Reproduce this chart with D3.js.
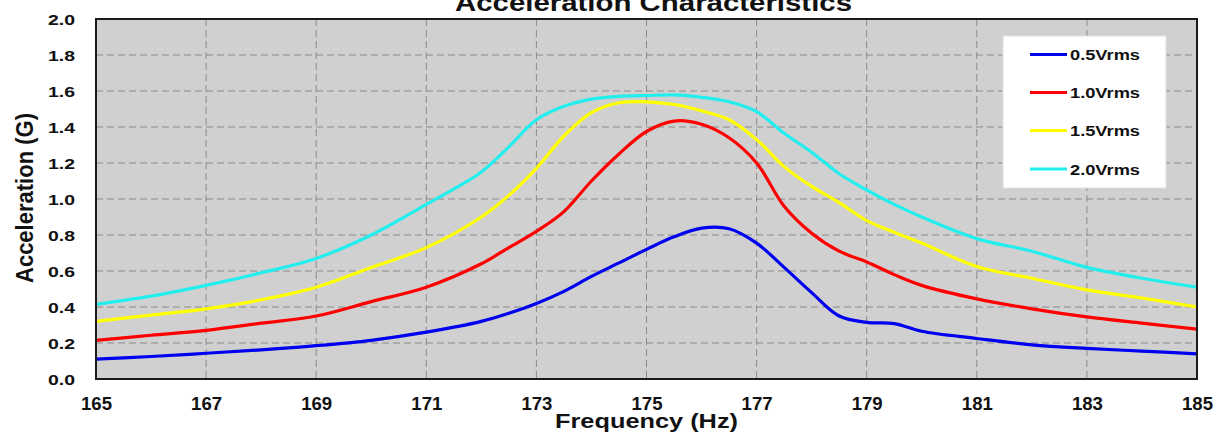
<!DOCTYPE html>
<html>
<head>
<meta charset="utf-8">
<script src="https://cdn.jsdelivr.net/npm/d3@7"></script>
<style>
  html, body { margin: 0; padding: 0; background: #fff; }
  svg { display: block; font-family: "Liberation Sans", Arial, sans-serif; }
</style>
</head>
<body>
<svg id="chart" width="1221" height="432"></svg>
<script>
// ---- data ----
const frequency = [165,166,167,168,169,170,171,172,172.5,173,173.5,174,174.5,175,175.5,176,176.5,177,177.5,178,178.5,179,179.5,180,181,182,183,184,185];
const v05 = [0.11,0.125,0.143,0.162,0.185,0.215,0.26,0.32,0.365,0.42,0.487,0.57,0.645,0.72,0.79,0.838,0.835,0.755,0.62,0.48,0.35,0.315,0.308,0.265,0.225,0.19,0.17,0.155,0.14];
const v10 = [0.215,0.243,0.27,0.31,0.35,0.43,0.51,0.64,0.73,0.82,0.93,1.10,1.25,1.375,1.433,1.415,1.34,1.20,0.96,0.81,0.71,0.65,0.58,0.52,0.445,0.39,0.345,0.31,0.277];
const v15 = [0.32,0.355,0.39,0.44,0.51,0.62,0.73,0.90,1.02,1.17,1.35,1.48,1.535,1.54,1.525,1.49,1.44,1.33,1.18,1.07,0.98,0.88,0.815,0.755,0.625,0.56,0.495,0.45,0.40];
const v20 = [0.415,0.46,0.52,0.59,0.67,0.80,0.97,1.15,1.29,1.44,1.515,1.555,1.57,1.575,1.578,1.565,1.54,1.485,1.365,1.26,1.14,1.05,0.97,0.90,0.78,0.71,0.62,0.56,0.51];
const seriesNames = ["0.5Vrms","1.0Vrms","1.5Vrms","2.0Vrms"];
const seriesColors = ["#0000f0","#ff0000","#ffff00","#22eeee"];
const xTicks = [165,167,169,171,173,175,177,179,181,183,185];
const yTicks = [0,0.2,0.4,0.6,0.8,1.0,1.2,1.4,1.6,1.8,2.0];

const seriesValues = [v05, v10, v15, v20];

// ---- layout ----
const svg = d3.select("#chart");
const L = 96, R = 1197, T = 19, B = 379;
const x = d3.scaleLinear().domain([165,185]).range([L,R]);
const y = d3.scaleLinear().domain([0,2]).range([B,T]);

// plot background
svg.append("rect").attr("x",L).attr("y",T).attr("width",R-L).attr("height",B-T).attr("fill","#d0d0d0");

// grid
const grid = svg.append("g").attr("stroke","#8a8a8a").attr("stroke-width",1).attr("stroke-dasharray","7,4");
grid.selectAll("line.v").data(xTicks.slice(1,-1)).join("line")
  .attr("x1",d=>x(d)).attr("x2",d=>x(d)).attr("y1",T).attr("y2",B);
grid.selectAll("line.h").data(yTicks.slice(1,-1)).join("line")
  .attr("x1",L).attr("x2",R).attr("y1",d=>y(d)).attr("y2",d=>y(d));

// lines
const line = d3.line().x((d,i)=>x(frequency[i])).y(d=>y(d)).curve(d3.curveCatmullRom.alpha(0.5));
svg.append("g").selectAll("path").data(seriesValues).join("path")
  .attr("d", d=>line(d))
  .attr("fill","none")
  .attr("stroke",(d,i)=>seriesColors[i])
  .attr("stroke-width",3.2)
  .attr("stroke-linejoin","round");

// border
svg.append("rect").attr("x",L).attr("y",T).attr("width",R-L).attr("height",B-T)
  .attr("fill","none").attr("stroke","#1a1a1a").attr("stroke-width",2);

// axes (tick labels only)
const xAxis = d3.axisBottom(x).tickValues(xTicks).tickFormat(d3.format("d")).tickSize(0).tickPadding(0);
const gx = svg.append("g").attr("transform",`translate(0,${B})`).call(xAxis);
gx.select(".domain").remove();
gx.selectAll("text").attr("y",31).attr("dy",0)
  .attr("font-size",18).attr("font-weight","bold").attr("fill","#111")
  .attr("font-family","'Liberation Sans', Arial, sans-serif")
  .attr("textLength",31).attr("lengthAdjust","spacingAndGlyphs");

const yAxis = d3.axisLeft(y).tickValues(yTicks).tickFormat(d3.format(".1f")).tickSize(0).tickPadding(21);
const gy = svg.append("g").attr("transform",`translate(${L},0)`).call(yAxis);
gy.select(".domain").remove();
gy.selectAll("text").attr("dy","0.36em")
  .attr("font-size",15).attr("font-weight","bold").attr("fill","#111")
  .attr("font-family","'Liberation Sans', Arial, sans-serif")
  .attr("textLength",27).attr("lengthAdjust","spacingAndGlyphs");

// titles
svg.append("text").attr("x",(L+R)/2+7).attr("y",11).attr("text-anchor","middle")
  .attr("font-size",24).attr("font-weight","bold").attr("fill","#111")
  .attr("textLength",397).attr("lengthAdjust","spacingAndGlyphs")
  .text("Acceleration Characteristics");
svg.append("text").attr("x",646.5).attr("y",428).attr("text-anchor","middle")
  .attr("font-size",21).attr("font-weight","bold").attr("fill","#111")
  .attr("textLength",183).attr("lengthAdjust","spacingAndGlyphs")
  .text("Frequency (Hz)");
svg.append("text").attr("transform","translate(33,198) rotate(-90)").attr("text-anchor","middle")
  .attr("font-size",24).attr("font-weight","bold").attr("fill","#111")
  .attr("textLength",170).attr("lengthAdjust","spacingAndGlyphs")
  .text("Acceleration (G)");

// legend
const lg = svg.append("g");
lg.append("rect").attr("x",1003).attr("y",36).attr("width",163).attr("height",152)
  .attr("fill","#fff").attr("stroke","#e0e0e0").attr("stroke-width",1);
const rowY = [54.5,92.5,130.5,169];
const items = lg.selectAll("g.item").data(seriesNames).join("g").attr("class","item")
  .attr("transform",(d,i)=>`translate(0,${rowY[i]})`);
items.append("line").attr("x1",1030).attr("x2",1067).attr("y1",0).attr("y2",0)
  .attr("stroke",(d,i)=>seriesColors[i]).attr("stroke-width",3.2);
items.append("text").attr("x",1070).attr("y",5.5)
  .attr("font-size",15).attr("font-weight","bold").attr("fill","#111")
  .attr("textLength",70).attr("lengthAdjust","spacingAndGlyphs")
  .text(d=>d);
</script>
</body>
</html>
